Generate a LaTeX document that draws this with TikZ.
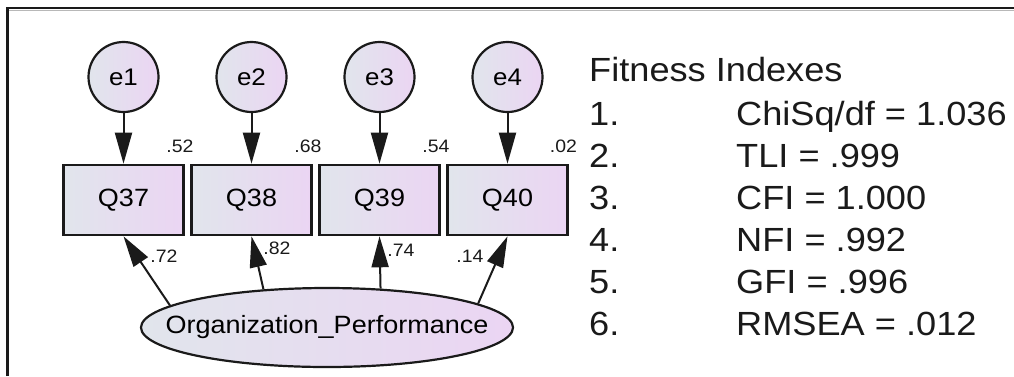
\documentclass[tikz,border=0pt]{standalone}
\usepackage{fontspec}
\setmainfont{Liberation Sans}[FakeStretch=1.08]
\usetikzlibrary{arrows.meta,shapes.geometric}
\definecolor{ink}{HTML}{1A1A1A}
\definecolor{fillL}{HTML}{E1E5EC}
\definecolor{fillR}{HTML}{EBD5F3}
\definecolor{frameshadow}{HTML}{B8B8B8}
\begin{document}
\begin{tikzpicture}[x=1pt,y=-1pt,
  semfill/.style={left color=fillL, right color=fillR},
  errnode/.style={circle, draw=ink, line width=2.2pt, semfill, minimum size=70pt,
    inner sep=0pt, font=\fontsize{24}{24}\selectfont},
  obsbox/.style={rectangle, draw=ink, line width=2.6pt, semfill, minimum width=120pt,
    minimum height=70pt, inner sep=0pt, font=\fontsize{25}{25}\selectfont},
  latent/.style={ellipse, draw=ink, line width=2.2pt, semfill, minimum width=372pt,
    minimum height=79pt, inner sep=0pt, font=\fontsize{25}{25}\selectfont},
  regpath/.style={draw=ink, line width=2pt, -{Triangle[length=31pt,width=17pt]}},
  est/.style={font=\fontsize{18}{18}\selectfont, inner sep=0pt, text=ink},
  fitline/.style={font=\fontsize{33.5}{33.5}\selectfont, inner sep=0pt, anchor=base west, text=ink}
]
\useasboundingbox (0,0) rectangle (1014,376);

% frame
\draw[frameshadow, line width=1pt] (8,10.8) -- (1014,10.8);
\draw[ink, line width=2.5pt] (7.5,376) -- (7.5,8) -- (1014,8);

% error terms
\node[errnode] (e1) at (123.5,77) {e1};
\node[errnode] (e2) at (251.5,77) {e2};
\node[errnode] (e3) at (379.5,77) {e3};
\node[errnode] (e4) at (507.5,77) {e4};

% observed indicators
\node[obsbox] (Q37) at (123.5,200) {Q37};
\node[obsbox] (Q38) at (251.5,200) {Q38};
\node[obsbox] (Q39) at (379.5,200) {Q39};
\node[obsbox] (Q40) at (507.5,200) {Q40};

% latent factor
\node[latent] (op) at (327,327.5) {\makebox[0pt]{Organization\_Performance}};

% error paths
\draw[regpath] (e1) -- (Q37);
\draw[regpath] (e2) -- (Q38);
\draw[regpath] (e3) -- (Q39);
\draw[regpath] (e4) -- (Q40);

% factor loadings
\draw[regpath] (op.172) -- (Q37.south);
\draw[regpath] (op.149) -- (Q38.south);
\draw[regpath] (op.36) -- (Q39.south);
\draw[regpath] (op.9) -- (Q40.south);

% squared multiple correlations
\node[est] (r37) at (180,146) {.52};
\node[est] (r38) at (308,146) {.68};
\node[est] (r39) at (436,146) {.54};
\node[est] (r40) at (563.5,146) {.02};

% standardized loadings
\node[est] (l37) at (164,256) {.72};
\node[est] (l38) at (277,248) {.82};
\node[est] (l39) at (401,250) {.74};
\node[est] (l40) at (470,256) {.14};

% fit indices
\node[fitline] (fit) at (589,81) {Fitness Indexes};
\node[fitline] (n1) at (589,125) {1.};
\node[fitline] (n2) at (589,167) {2.};
\node[fitline] (n3) at (589,209) {3.};
\node[fitline] (n4) at (589,251) {4.};
\node[fitline] (n5) at (589,293) {5.};
\node[fitline] (n6) at (589,335) {6.};
\node[fitline] (v1) at (736,125) {ChiSq/df = 1.036};
\node[fitline] (v2) at (736,167) {TLI = .999};
\node[fitline] (v3) at (736,209) {CFI = 1.000};
\node[fitline] (v4) at (736,251) {NFI = .992};
\node[fitline] (v5) at (736,293) {GFI = .996};
\node[fitline] (v6) at (736,335) {RMSEA = .012};
\end{tikzpicture}
\end{document}
